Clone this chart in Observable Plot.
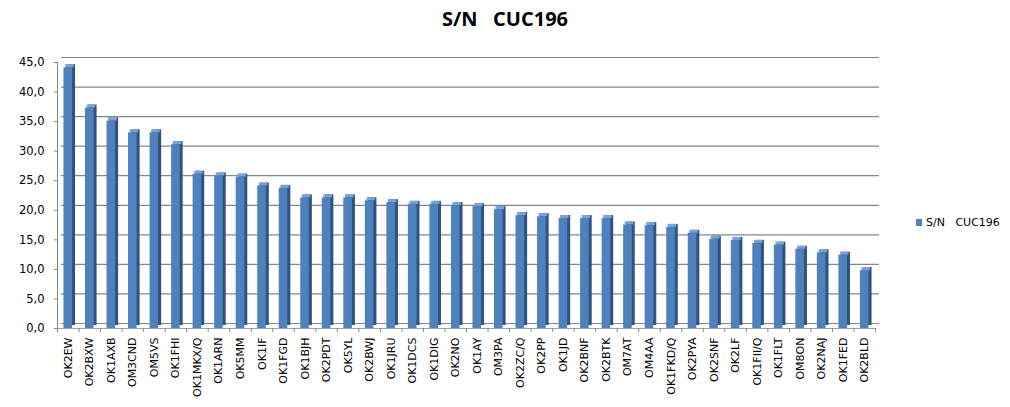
<!DOCTYPE html>
<html><head><meta charset="utf-8">
<script src="https://cdn.jsdelivr.net/npm/d3@7"></script>
<script src="https://cdn.jsdelivr.net/npm/@observablehq/plot@0.6"></script>
<style>
body{margin:0;background:#fff;}
#wrap{position:relative;width:1010px;height:407px;overflow:hidden;}
#title{position:absolute;left:0;width:1010px;top:5px;text-align:center;font:bold 20px "Open Sans",sans-serif;white-space:pre;color:#000;}
#legend{position:absolute;left:916px;top:216px;font:11px "DejaVu Sans",sans-serif;white-space:pre;color:#000;display:flex;align-items:center;}
#legend span.sw{display:inline-block;width:6px;height:7px;background:#4F81BD;margin-right:4px;}
</style></head>
<body><div id="wrap"><div id="title">S/N   CUC196</div><div id="legend"><span class="sw"></span><span>S/N   CUC196</span></div></div>
<script>
const stations = ["OK2EW","OK2BXW","OK1AXB","OM3CND","OM5VS","OK1FHI","OK1MKX/Q","OK1ARN","OK5MM","OK1IF","OK1FGD","OK1BJH","OK2PDT","OK5YL","OK2BWJ","OK1JRU","OK1DCS","OK1DIG","OK2NO","OK1AY","OM3PA","OK2ZC/Q","OK2PP","OK1JD","OK2BNF","OK2BTK","OM7AT","OM4AA","OK1FKD/Q","OK2PYA","OK2SNF","OK2LF","OK1FII/Q","OK1FLT","OM8ON","OK2NAJ","OK1FED","OK2BLD"];
const snValues = [44.1,37.3,35.1,33.1,33.1,31.1,26.1,25.8,25.6,24.1,23.7,22.1,22.1,22.1,21.6,21.3,21.0,21.0,20.8,20.6,20.1,19.1,18.9,18.6,18.6,18.6,17.5,17.4,17.1,16.1,15.1,14.9,14.4,14.1,13.4,12.8,12.4,9.8];
const yTicks = [0,5,10,15,20,25,30,35,40,45];
const seriesName = "S/N   CUC196";

const data = stations.map((s,i)=>({station:s, value:snValues[i]}));
const W=1010,H=407,ml=57,mr=135,mt=62,mb=79;
const step=(W-ml-mr)/stations.length;
const ins=(step-8.6)/2;
const fmt = d => d.toFixed(1).replace(".", ",");

const chart = Plot.plot({
  width:W,height:H,marginLeft:ml,marginRight:mr,marginTop:mt,marginBottom:mb,
  style:{fontFamily:"DejaVu Sans, sans-serif",fontSize:"11px",color:"#000",background:"transparent"},
  x:{domain:stations,padding:0,round:false,label:null},
  y:{domain:[0,45],label:null},
  marks:[
    Plot.ruleY(yTicks,{stroke:"#868686",strokeWidth:1.2,dx:4,dy:-5}),
    Plot.ruleY([0],{stroke:"#a0a0a0",strokeWidth:1}),
    Plot.ruleX(stations,{x:d=>d,y1:0,y2:-0.7,dx:step/2,stroke:"#868686"}),
    Plot.ruleX([stations[0]],{x:d=>d,y1:0,y2:-0.7,dx:-step/2,stroke:"#868686"}),
    Plot.barY(data,{x:"station",y:"value",fill:"#2F5382",dx:3,dy:-3,insetLeft:ins,insetRight:ins}),
    Plot.barY(data,{x:"station",y1:"value",y2:"value",fill:"#7CA3D6",dx:1.5,dy:-1.5,insetTop:-1.5,insetBottom:-1.5,insetLeft:ins,insetRight:ins}),
    Plot.barY(data,{x:"station",y:"value",fill:"#4F81BD",insetLeft:ins,insetRight:ins}),
    Plot.frame({anchor:"left",stroke:"#868686"}),
    Plot.axisY({ticks:yTicks,tickFormat:fmt,tickSize:3,tickPadding:10,stroke:"#868686",fontSize:11.5}),
    Plot.axisX({tickSize:0,tickRotate:-90,tickPadding:9,fontSize:11})
  ]
});
chart.style.position="absolute";chart.style.left="0";chart.style.top="0";
document.getElementById("wrap").prepend(chart);
</script></body></html>
